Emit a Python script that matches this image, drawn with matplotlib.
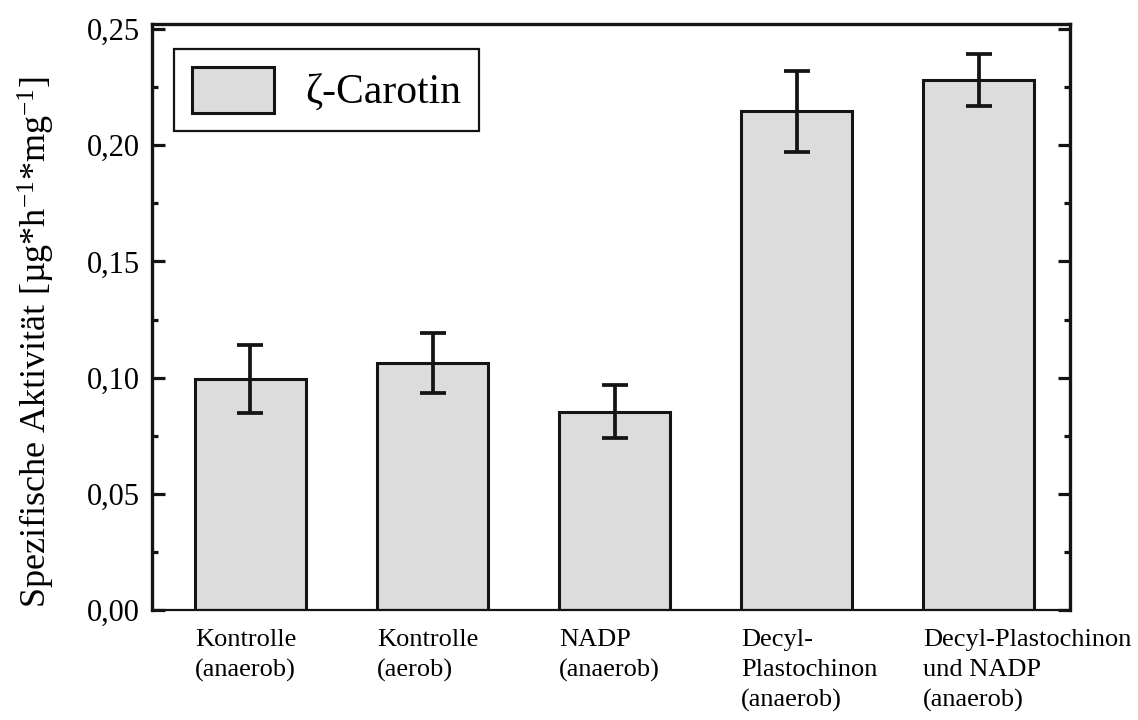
import numpy as np
import matplotlib
matplotlib.use('Agg')
import matplotlib.pyplot as plt
from matplotlib.ticker import MultipleLocator

plt.rcParams['font.family'] = ['Liberation Serif', 'DejaVu Serif']
plt.rcParams['mathtext.fontset'] = 'custom'
plt.rcParams['mathtext.rm'] = 'Liberation Serif'
plt.rcParams['mathtext.it'] = 'Liberation Serif:italic'

labels = ['Kontrolle\n(anaerob)', 'Kontrolle\n(aerob)', 'NADP\n(anaerob)',
          'Decyl-\nPlastochinon\n(anaerob)', 'Decyl-Plastochinon\nund NADP\n(anaerob)']
activity = [0.0994, 0.1064, 0.0853, 0.2146, 0.2281]
activity_err = [0.0146, 0.0129, 0.0114, 0.0174, 0.0110]

fill = '#dcdcdc'
ink = '#141414'
x = np.arange(len(labels))
width = 0.61

fig = plt.figure(figsize=(11.38, 7.2), dpi=100)
ax = fig.add_axes([0.1336, 0.1528, 0.8066, 0.8139])

ax.bar(x, activity, width, color=fill, edgecolor=ink, linewidth=2.2,
       label='ζ-Carotin', zorder=2)
ax.errorbar(x, activity, yerr=activity_err, fmt='none', ecolor=ink,
            elinewidth=2.7, capsize=9.5, capthick=2.7, zorder=3)

ax.set_xlim(-0.54, 4.5)
ax.set_ylim(0, 0.2522)

# labels sit left-aligned under each bar's left edge
ax.set_xticks(x - width / 2)
ax.set_xticklabels(labels, fontsize=19, ha='left', linespacing=1.45)
ax.tick_params(axis='x', length=0, pad=14)

ax.yaxis.set_major_locator(MultipleLocator(0.05))
ax.yaxis.set_minor_locator(MultipleLocator(0.025))
ax.yaxis.set_major_formatter(plt.FuncFormatter(lambda v, p: f'{v:.2f}'.replace('.', ',')))
ax.tick_params(axis='y', which='both', direction='in', left=True, right=True,
               width=2.3, color=ink, labelsize=22, pad=9)
ax.tick_params(axis='y', which='major', length=9)
ax.tick_params(axis='y', which='minor', length=4.5)

for side in ['left', 'right', 'top']:
    ax.spines[side].set_linewidth(2.4)
    ax.spines[side].set_color(ink)
ax.spines['bottom'].set_linewidth(1.6)
ax.spines['bottom'].set_color(ink)

ax.set_ylabel('Spezifische Aktivität [µg*h$^{-1}$*mg$^{-1}$]', fontsize=26)
ax.yaxis.set_label_coords(-0.103, 0.457)

leg = ax.legend(loc='upper left', bbox_to_anchor=(0.024, 0.957), borderaxespad=0,
                fontsize=30, fancybox=False, framealpha=1, edgecolor=ink,
                handlelength=1.97, handleheight=1.35, handletextpad=0.77,
                borderpad=0.42)
leg.get_frame().set_linewidth(1.6)

fig.savefig('out.png', dpi=100)
